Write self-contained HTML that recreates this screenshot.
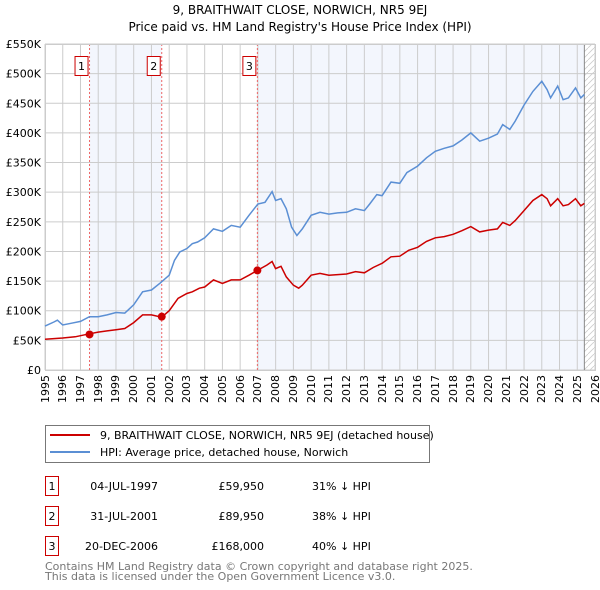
<!DOCTYPE html>
<html><head><meta charset="utf-8"><style>
body{margin:0;background:#fff;font-family:"DejaVu Sans","Liberation Sans",sans-serif;position:relative;width:600px;height:590px;overflow:hidden}
svg{display:block}
.xl{position:absolute;top:375px;width:40px;height:13px;line-height:13px;font-size:11px;text-align:right;transform-origin:0 0;transform:rotate(-90deg);white-space:nowrap}
</style></head><body>
<svg id="c" width="600" height="590" xmlns="http://www.w3.org/2000/svg" font-family="DejaVu Sans, Liberation Sans, sans-serif">
<text x="300" y="14" text-anchor="middle" font-size="12">9, BRAITHWAIT CLOSE, NORWICH, NR5 9EJ</text>
<text x="300" y="31" text-anchor="middle" font-size="12">Price paid vs. HM Land Registry's House Price Index (HPI)</text>
<g id="plot"></g>
<g>
<rect x="45.5" y="425.5" width="384" height="37" fill="#fff" stroke="#777"/>
<line x1="50" y1="435" x2="90" y2="435" stroke="#cc0000" stroke-width="2"/>
<text x="100" y="439" font-size="11">9, BRAITHWAIT CLOSE, NORWICH, NR5 9EJ (detached house)</text>
<line x1="50" y1="452" x2="90" y2="452" stroke="#5b8fd4" stroke-width="2"/>
<text x="100" y="456" font-size="11">HPI: Average price, detached house, Norwich</text>
</g>
<g font-size="11">
<rect x="45.5" y="476.5" width="13" height="19" fill="#fff" stroke="#cc0000"/><text x="52" y="490" text-anchor="middle">1</text>
<text x="158" y="490" text-anchor="end">04-JUL-1997</text><text x="264" y="490" text-anchor="end">£59,950</text><text x="312" y="490">31% ↓ HPI</text>
<rect x="45.5" y="506.5" width="13" height="19" fill="#fff" stroke="#cc0000"/><text x="52" y="520" text-anchor="middle">2</text>
<text x="158" y="520" text-anchor="end">31-JUL-2001</text><text x="264" y="520" text-anchor="end">£89,950</text><text x="312" y="520">38% ↓ HPI</text>
<rect x="45.5" y="536.5" width="13" height="19" fill="#fff" stroke="#cc0000"/><text x="52" y="550" text-anchor="middle">3</text>
<text x="158" y="550" text-anchor="end">20-DEC-2006</text><text x="264" y="550" text-anchor="end">£168,000</text><text x="312" y="550">40% ↓ HPI</text>
</g>
<text x="45" y="570" font-size="11" fill="#777">Contains HM Land Registry data © Crown copyright and database right 2025.</text>
<text x="45" y="580" font-size="11" fill="#777">This data is licensed under the Open Government Licence v3.0.</text>
</svg>
<script>
const hpiYears=[1995,1995.5,1995.7,1996,1996.5,1997,1997.5,1998,1998.5,1999,1999.5,2000,2000.5,2001,2001.5,2002,2002.3,2002.6,2003,2003.3,2003.6,2004,2004.5,2005,2005.5,2006,2006.5,2007,2007.4,2007.8,2008,2008.3,2008.6,2008.9,2009.2,2009.5,2010,2010.5,2011,2011.5,2012,2012.5,2013,2013.3,2013.7,2014,2014.5,2015,2015.4,2016,2016.5,2017,2017.5,2018,2018.5,2019,2019.5,2020,2020.5,2020.8,2021.2,2021.5,2022,2022.5,2023,2023.3,2023.5,2023.9,2024.2,2024.5,2024.9,2025.2,2025.4];
const hpiValues=[74,81,84,76,79,82,90,90,93,97,96,110,132,135,147,160,185,199,205,213,216,223,238,234,244,241,261,280,283,301,286,289,272,241,227,238,261,266,263,265,266,272,269,280,296,294,317,315,333,344,358,369,374,378,388,400,386,391,398,414,406,420,447,470,487,473,459,479,456,459,476,459,465];
const ppYears=[1995,1996,1996.7,1997.5,1998,1998.5,1999,1999.5,2000,2000.5,2001,2001.58,2002,2002.5,2003,2003.3,2003.7,2004,2004.5,2005,2005.5,2006,2006.5,2006.97,2007.5,2007.8,2008,2008.3,2008.6,2009,2009.3,2009.5,2010,2010.5,2011,2012,2012.5,2013,2013.5,2014,2014.5,2015,2015.5,2016,2016.5,2017,2017.5,2018,2018.5,2019,2019.5,2020,2020.5,2020.8,2021.2,2021.5,2022,2022.5,2023,2023.3,2023.5,2023.9,2024.2,2024.5,2024.9,2025.2,2025.4];
const ppValues=[52,54,56,61,64,66,68,70,80,93,93,89,100,121,129,132,138,140,152,146,152,152,160,168,177,183,171,175,157,143,138,143,160,163,160,162,166,164,173,180,191,192,202,207,217,223,225,229,235,242,233,236,238,249,244,252,269,286,296,289,277,289,277,279,289,277,281];
const saleYears=[1997.51,2001.58,2006.97];
const saleValues=[59.95,89.95,168];
const saleLabels=["1","2","3"];
const yTicks=[0,50,100,150,200,250,300,350,400,450,500,550];
const yTickLabels=["£0","£50K","£100K","£150K","£200K","£250K","£300K","£350K","£400K","£450K","£500K","£550K"];
const xTicks=[1995,1996,1997,1998,1999,2000,2001,2002,2003,2004,2005,2006,2007,2008,2009,2010,2011,2012,2013,2014,2015,2016,2017,2018,2019,2020,2021,2022,2023,2024,2025,2026];
const dataEnd=2025.4;

const L=45,R=595,T=44,B=370,X0=1995,X1=2026,YMAX=550;
const sx=y=>L+(y-X0)/(X1-X0)*(R-L);
const sy=v=>B-v/YMAX*(B-T);
const NS="http://www.w3.org/2000/svg";
const g=document.getElementById('plot');
function mk(t,a,p){const e=document.createElementNS(NS,t);for(const k in a)e.setAttribute(k,a[k]);(p||g).appendChild(e);return e;}
let e;
e=mk('rect',{x:sx(saleYears[0]),y:T,width:sx(saleYears[1])-sx(saleYears[0]),height:B-T,fill:'#f3f6fd'});


e=mk('rect',{x:sx(saleYears[2]),y:T,width:sx(dataEnd)-sx(saleYears[2]),height:B-T,fill:'#f3f6fd'});


const defs=mk('defs',{});
const pat=mk('pattern',{id:'hatch',width:6,height:6,patternUnits:'userSpaceOnUse'},defs);
mk('path',{d:'M0,6 L6,0',stroke:'#ccc','stroke-width':0.8},pat);
e=mk('rect',{x:sx(dataEnd),y:T,width:R-sx(dataEnd),height:B-T,fill:'url(#hatch)'});


yTicks.forEach((v,i)=>{
 e=mk('line',{x1:L,x2:R,y1:sy(v),y2:sy(v),stroke:'#ccc','stroke-width':1});
 
 
 e=mk('text',{x:L-4,y:sy(v)+4,'text-anchor':'end','font-size':11});
 e.textContent=yTickLabels[i];
 
 
});
xTicks.forEach(v=>{
 e=mk('line',{x1:sx(v),x2:sx(v),y1:T,y2:B,stroke:'#ccc','stroke-width':1});
 
 
 const d=document.createElement('div');
 d.className='xl';
 d.textContent=v;
 d.style.left=(sx(v)-6.5)+'px';
 d.style.top=(B+5+40)+'px';
 
 
 document.body.appendChild(d);
});
e=mk('line',{x1:sx(dataEnd),x2:sx(dataEnd),y1:T,y2:B,stroke:'#888','stroke-width':1});


saleYears.forEach((y,i)=>{
 e=mk('line',{x1:sx(y),x2:sx(y),y1:T,y2:B,stroke:'#e66','stroke-width':1,'stroke-dasharray':'2,2'});
 
 
 e=mk('rect',{x:sx(y)-14.5,y:56.5,width:13,height:19,fill:'#fff',stroke:'#cc0000'});
 
 
 e=mk('text',{x:sx(y)-8,y:70,'text-anchor':'middle','font-size':11});
 e.textContent=saleLabels[i];
 
 
});
mk('rect',{x:L+.5,y:T+.5,width:R-L,height:B-T,fill:'none',stroke:'#ccc'});
const path=(xs,vs)=>xs.map((x,i)=>(i?'L':'M')+sx(x).toFixed(1)+','+sy(vs[i]).toFixed(1)).join('');
e=mk('path',{d:path(hpiYears,hpiValues),fill:'none',stroke:'#5b8fd4','stroke-width':1.5});


e=mk('path',{d:path(ppYears,ppValues),fill:'none',stroke:'#cc0000','stroke-width':1.5});


saleYears.forEach((y,i)=>{
 e=mk('circle',{cx:sx(y),cy:sy(saleValues[i]),r:4,fill:'#cc0000'});
 
 
});
</script>
</body></html>
